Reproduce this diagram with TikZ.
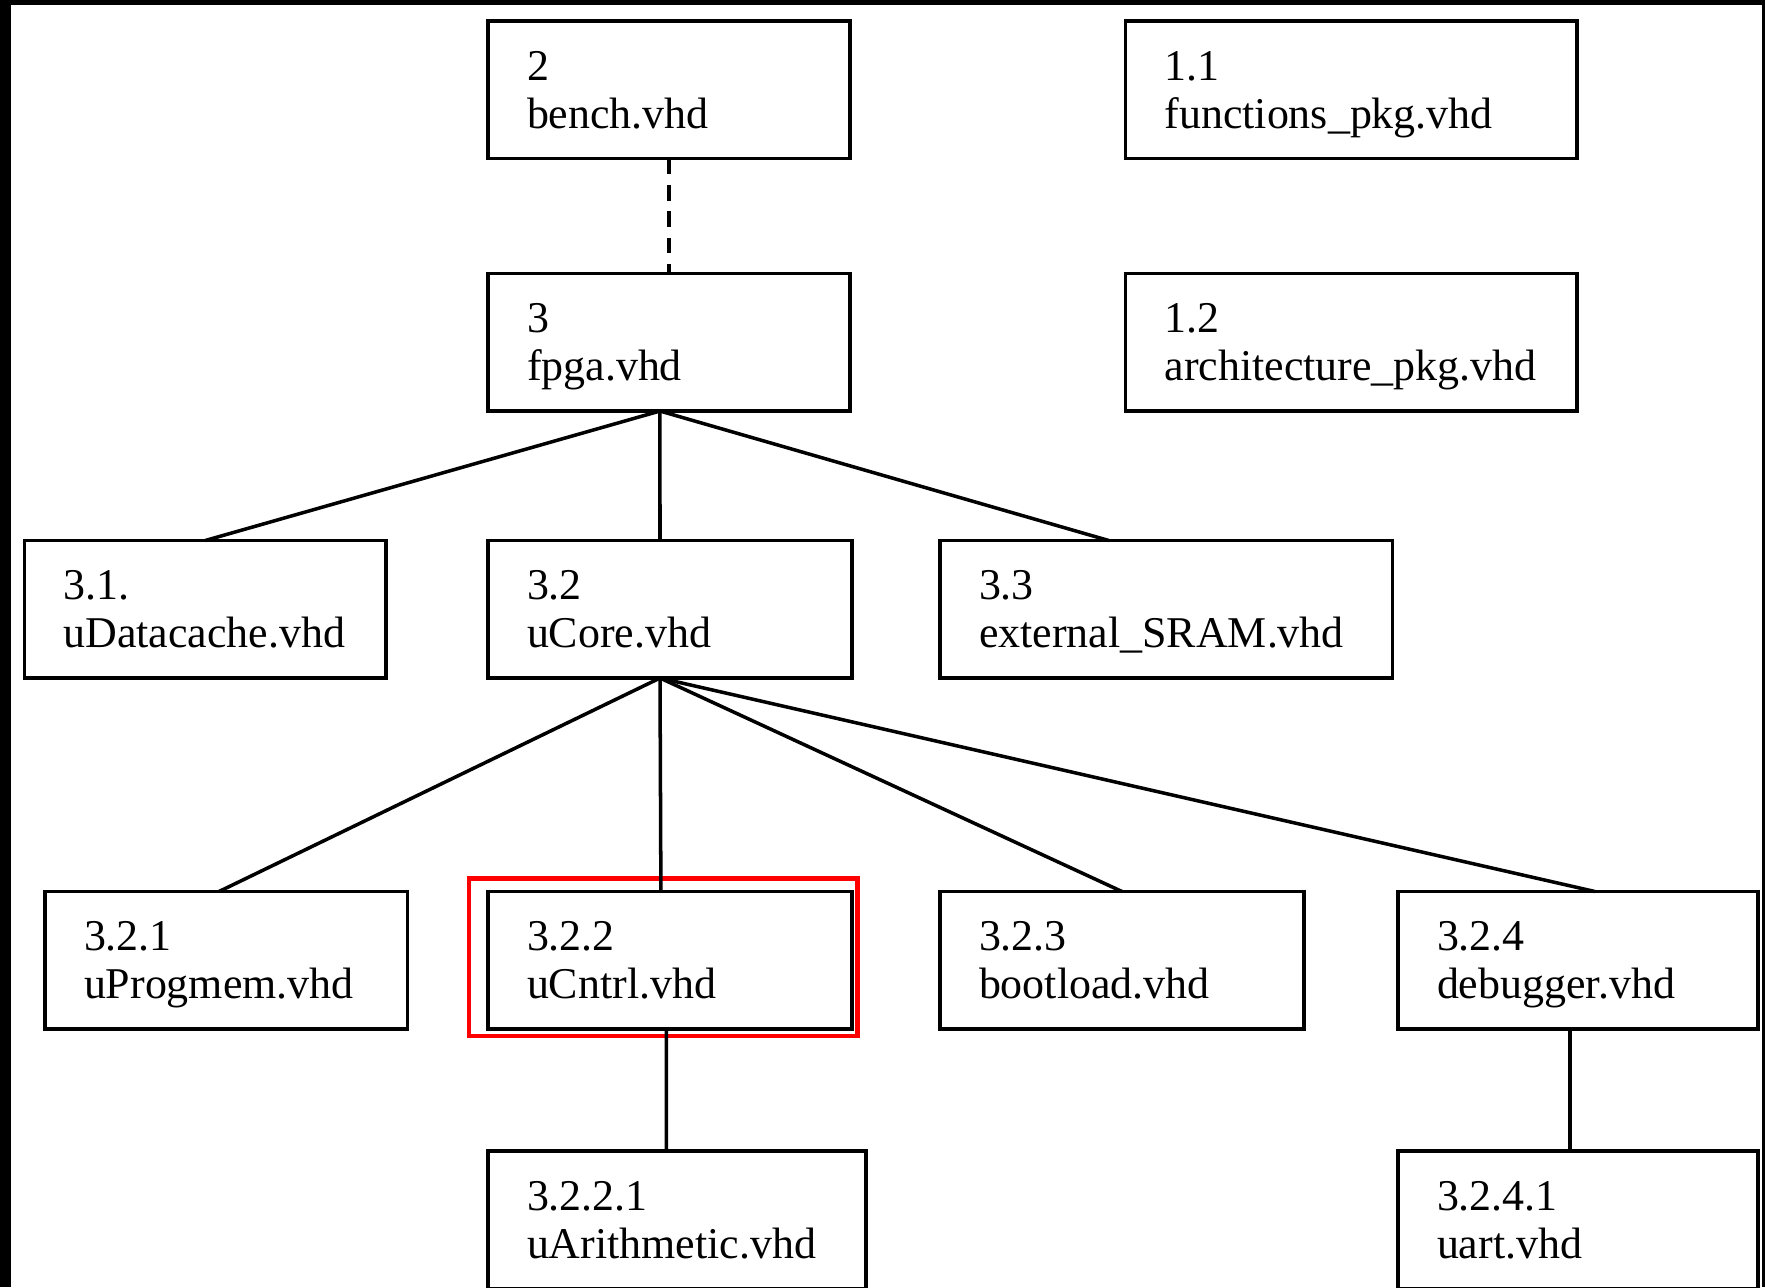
\documentclass[tikz,border=0pt]{standalone}
\usepackage{fontspec}
\setmainfont{Liberation Serif}
\usetikzlibrary{positioning,calc}

\begin{document}
\begin{tikzpicture}[
  x=1mm, y=1mm,
  node distance=10mm and 8.8mm,
  filebox/.style={draw, line width=0.95pt, inner xsep=3.9mm, inner ysep=0pt, outer sep=0pt,
    minimum height=13.75mm, align=left, text width=#1-7.8mm,
    text height=8pt, text depth=13.4pt, font=\fontsize{12.5}{13.6}\selectfont},
  linkstyle/.style={line width=1pt},
  dashstyle/.style={linkstyle, line width=1.1pt, dash pattern=on 4.5pt off 3pt},
  markstyle/.style={draw=red, line width=1.3pt}
]

  % frame
  \fill[black] (0,0) rectangle (176.5,-128.7);
  \fill[white] (1.1,-0.45) rectangle (176.15,-128.7);
  \useasboundingbox (0,0) rectangle (176.5,-128.7);

  \node[filebox=36.2mm, anchor=north west] (bench) at (48.8,-2.1)
    {2\\bench.vhd};
  \node[filebox=45.15mm, right=27.55mm of bench] (functions)
    {1.1\\functions\_pkg.vhd};

  \node[filebox=36.2mm, below=11.5mm of bench] (fpga)
    {3\\fpga.vhd};
  \node[filebox=45.15mm, right=27.55mm of fpga] (architecture)
    {1.2\\architecture\_pkg.vhd};

  \node[filebox=36.4mm, below=12.95mm of fpga.south west, anchor=north west] (core)
    {3.2\\uCore.vhd};
  \node[filebox=36.15mm, left=10.2mm of core] (datacache)
    {3.1.\\uDatacache.vhd};
  \node[filebox=45.25mm, right=of core] (external)
    {3.3\\external\_SRAM.vhd};

  \node[filebox=36.4mm, below=21.35mm of core.south west, anchor=north west] (cntrl)
    {3.2.2\\uCntrl.vhd};
  \node[filebox=36.25mm, left=8.05mm of cntrl] (progmem)
    {3.2.1\\uProgmem.vhd};
  \node[filebox=36.4mm, right=of cntrl] (bootload)
    {3.2.3\\bootload.vhd};
  \node[filebox=36mm, right=9.4mm of bootload] (debugger)
    {3.2.4\\debugger.vhd};

  \node[filebox=37.8mm, below=12.2mm of cntrl.south west, anchor=north west] (arith)
    {3.2.2.1\\uArithmetic.vhd};
  \node[filebox=36mm, below=12.2mm of debugger.south west, anchor=north west] (uart)
    {3.2.4.1\\uart.vhd};

  % highlight
  \draw[markstyle] ($(cntrl.north west)+(-1.9,1.32)$) rectangle ($(cntrl.south east)+(0.55,-0.7)$);

  \draw[dashstyle] (bench.south) -- (fpga.north);

  \draw[linkstyle] ($(fpga.south west)!0.475!(fpga.south east)$) -- (datacache.north);
  \draw[linkstyle] ($(fpga.south west)!0.475!(fpga.south east)$) -- ($(core.north west)!0.4725!(core.north east)$);
  \draw[linkstyle] ($(fpga.south west)!0.475!(fpga.south east)$) -- ($(external.north west)!0.373!(external.north east)$);

  \draw[linkstyle] ($(core.south west)!0.4725!(core.south east)$) -- ($(progmem.north west)!0.48!(progmem.north east)$);
  \draw[linkstyle] ($(core.south west)!0.4725!(core.south east)$) -- ($(cntrl.north west)!0.475!(cntrl.north east)$);
  \draw[linkstyle] ($(core.south west)!0.4725!(core.south east)$) -- (bootload.north);
  \draw[linkstyle] ($(core.south west)!0.4725!(core.south east)$) -- ($(debugger.north west)!0.547!(debugger.north east)$);

  \draw[linkstyle] ($(cntrl.south west)!0.49!(cntrl.south east)$) -- ($(arith.north west)!0.472!(arith.north east)$);
  \draw[linkstyle] ($(debugger.south west)!0.478!(debugger.south east)$) -- ($(uart.north west)!0.478!(uart.north east)$);
\end{tikzpicture}
\end{document}
